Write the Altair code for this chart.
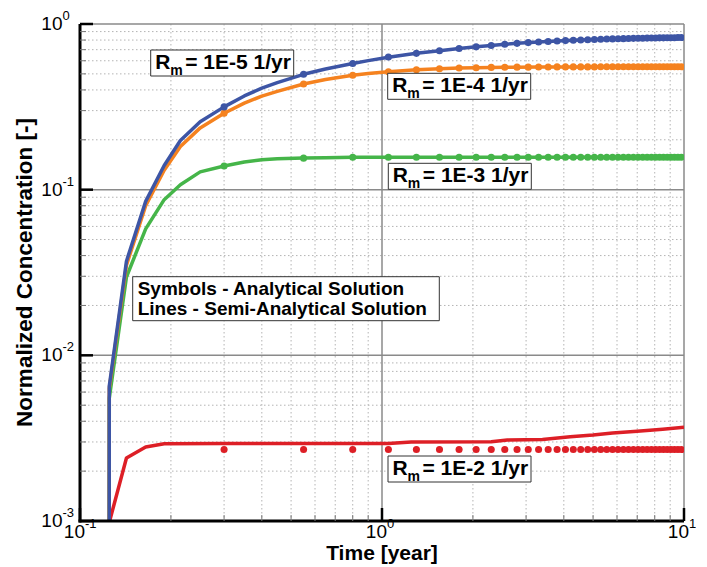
import altair as alt
import pandas as pd

# ---------------- data ----------------
# analytical solution (symbols)
analytical_t = [0.3, 0.55, 0.8, 1.05, 1.3, 1.55, 1.8, 2.05, 2.3, 2.55,
                2.8, 3.05, 3.3, 3.55, 3.8, 4.05, 4.3, 4.55, 4.8, 5.05,
                5.3, 5.55, 5.8, 6.05, 6.3, 6.55, 6.8, 7.05, 7.3, 7.55,
                7.8, 8.05, 8.3, 8.55, 8.8, 9.05, 9.3, 9.55, 9.8]
an_1e5 = [0.316, 0.497, 0.578, 0.632, 0.665, 0.690, 0.711, 0.728, 0.742, 0.754,
          0.764, 0.772, 0.779, 0.785, 0.790, 0.794, 0.798, 0.801, 0.804, 0.807,
          0.809, 0.811, 0.813, 0.815, 0.816, 0.818, 0.819, 0.820, 0.821, 0.822,
          0.823, 0.824, 0.825, 0.825, 0.826, 0.827, 0.827, 0.828, 0.828]
an_1e4 = [0.289, 0.434, 0.490, 0.515, 0.529, 0.537, 0.542, 0.545, 0.547, 0.548,
          0.549, 0.549, 0.550, 0.550, 0.551, 0.551, 0.551, 0.551, 0.551, 0.551,
          0.552, 0.552, 0.552, 0.552, 0.552, 0.552, 0.552, 0.552, 0.552, 0.552,
          0.552, 0.552, 0.552, 0.552, 0.552, 0.552, 0.552, 0.552, 0.552]
an_1e3 = [0.139, 0.155, 0.157, 0.157, 0.157, 0.157, 0.157, 0.157, 0.157, 0.157,
          0.157, 0.157, 0.157, 0.157, 0.157, 0.157, 0.157, 0.157, 0.157, 0.157,
          0.157, 0.157, 0.157, 0.157, 0.157, 0.157, 0.157, 0.157, 0.157, 0.157,
          0.157, 0.157, 0.157, 0.157, 0.157, 0.157, 0.157, 0.157, 0.157]
an_1e2 = [0.0027, 0.0027, 0.0027, 0.0027, 0.0027, 0.0027, 0.0027, 0.0027, 0.0027, 0.0027,
          0.0027, 0.0027, 0.0027, 0.0027, 0.0027, 0.0027, 0.0027, 0.0027, 0.0027, 0.0027,
          0.0027, 0.0027, 0.0027, 0.0027, 0.0027, 0.0027, 0.0027, 0.0027, 0.0027, 0.0027,
          0.0027, 0.0027, 0.0027, 0.0027, 0.0027, 0.0027, 0.0027, 0.0027, 0.0027]

# semi-analytical solution (lines)
line_t = [0.1249, 0.125, 0.1425, 0.165, 0.19, 0.215, 0.25, 0.3, 0.35, 0.4,
          0.45, 0.55, 0.65, 0.8, 0.9, 1.05, 1.3, 1.55, 1.8, 2.05,
          2.3, 2.55, 2.8, 3.3, 3.8, 4.3, 4.8, 5.3, 5.8, 6.5,
          7.3, 8.0, 9.0, 10.0]
sa_1e5 = [0.0001, 0.0065, 0.037, 0.085, 0.140, 0.198, 0.257, 0.316, 0.368, 0.410,
          0.443, 0.497, 0.535, 0.578, 0.601, 0.630, 0.665, 0.690, 0.711, 0.728,
          0.742, 0.754, 0.764, 0.779, 0.790, 0.798, 0.804, 0.809, 0.813, 0.817,
          0.821, 0.824, 0.826, 0.829]
sa_1e4 = [0.0001, 0.0063, 0.035, 0.080, 0.131, 0.182, 0.236, 0.289, 0.333, 0.367,
          0.392, 0.434, 0.462, 0.490, 0.502, 0.515, 0.529, 0.537, 0.542, 0.545,
          0.547, 0.548, 0.549, 0.550, 0.551, 0.551, 0.551, 0.552, 0.552, 0.552,
          0.552, 0.552, 0.552, 0.552]
sa_1e3 = [0.0001, 0.0055, 0.0297, 0.058, 0.087, 0.107, 0.128, 0.139, 0.147, 0.1515,
          0.1535, 0.1555, 0.156, 0.157, 0.157, 0.157, 0.157, 0.157, 0.157, 0.157,
          0.157, 0.157, 0.157, 0.157, 0.157, 0.157, 0.157, 0.157, 0.157, 0.157,
          0.157, 0.157, 0.157, 0.157]
red_t = [0.125, 0.1425, 0.165, 0.19, 0.3, 0.55, 0.8, 1.05, 1.25, 2.3,
         2.6, 3.4, 4.2, 5.0, 5.8, 7.0, 8.5, 10.0]
sa_1e2 = [0.00098, 0.0024, 0.0028, 0.00293, 0.00294, 0.00294, 0.00294, 0.00294, 0.00300, 0.00301,
          0.00308, 0.00310, 0.00322, 0.00330, 0.00340, 0.00348, 0.00358, 0.00368]

# ticks
x_major = [0.1, 1, 10]
x_exp = ["-1", "0", "1"]
x_minor = [0.2, 0.3, 0.4, 0.5, 0.6, 0.7, 0.8, 0.9, 2, 3, 4, 5, 6, 7, 8, 9]
y_major = [0.001, 0.01, 0.1, 1]
y_exp = ["-3", "-2", "-1", "0"]
y_minor = [0.002, 0.003, 0.004, 0.005, 0.006, 0.007, 0.008, 0.009,
           0.02, 0.03, 0.04, 0.05, 0.06, 0.07, 0.08, 0.09,
           0.2, 0.3, 0.4, 0.5, 0.6, 0.7, 0.8, 0.9]

rm_texts = ["= 1E-5 1/yr", "= 1E-4 1/yr", "= 1E-3 1/yr", "= 1E-2 1/yr"]
legend_lines = ["Symbols - Analytical Solution", "Lines - Semi-Analytical Solution"]

# ---------------- styling ----------------
W, H = 604, 497
FONT = "Liberation Sans"
BLUE, ORANGE, GREEN, RED = "#3D55A5", "#F5821F", "#45B549", "#DD1F26"
xs = alt.Scale(type="log", domain=[0.1, 10], nice=False)
ys = alt.Scale(type="log", domain=[0.001, 1], nice=False)
one = pd.DataFrame({"k": [0]})

layers = []

# grid
layers.append(alt.Chart(pd.DataFrame({"t": x_minor})).mark_rule(
    color="#b4b4b4", strokeWidth=1, strokeDash=[1.5, 2.5]).encode(
    x=alt.X("t:Q", scale=xs, axis=None), y=alt.value(0), y2=alt.value(H)))
layers.append(alt.Chart(pd.DataFrame({"v": y_minor})).mark_rule(
    color="#b4b4b4", strokeWidth=1, strokeDash=[1.5, 2.5]).encode(
    y=alt.Y("v:Q", scale=ys, axis=None), x=alt.value(0), x2=alt.value(W)))
layers.append(alt.Chart(pd.DataFrame({"t": x_major[1:]})).mark_rule(
    color="#8a8a8a", strokeWidth=1.5).encode(
    x=alt.X("t:Q", scale=xs, axis=None), y=alt.value(0), y2=alt.value(H)))
layers.append(alt.Chart(pd.DataFrame({"v": y_major[1:]})).mark_rule(
    color="#8a8a8a", strokeWidth=1.5).encode(
    y=alt.Y("v:Q", scale=ys, axis=None), x=alt.value(0), x2=alt.value(W)))

# series
series = [
    (red_t, sa_1e2, an_1e2, RED),
    (line_t, sa_1e3, an_1e3, GREEN),
    (line_t, sa_1e4, an_1e4, ORANGE),
    (line_t, sa_1e5, an_1e5, BLUE),
]
for lt, lv, av, col in series:
    layers.append(alt.Chart(pd.DataFrame({"t": lt, "c": lv})).mark_line(
        color=col, strokeWidth=3.5, clip=True, strokeJoin="round").encode(
        x=alt.X("t:Q", scale=xs, axis=None), y=alt.Y("c:Q", scale=ys, axis=None),
        order="t:Q"))
for lt, lv, av, col in series:
    layers.append(alt.Chart(pd.DataFrame({"t": analytical_t, "c": av})).mark_circle(
        color=col, size=50, opacity=1, clip=True).encode(
        x=alt.X("t:Q", scale=xs, axis=None), y=alt.Y("c:Q", scale=ys, axis=None)))

# axis lines
layers.append(alt.Chart(one).mark_rule(color="black", strokeWidth=3).encode(
    x=alt.value(0), y=alt.value(0), y2=alt.value(H + 1.5)))
layers.append(alt.Chart(one).mark_rule(color="black", strokeWidth=3).encode(
    x=alt.value(-1.5), x2=alt.value(W), y=alt.value(H)))

# ticks (inward)
layers.append(alt.Chart(pd.DataFrame({"t": x_minor})).mark_rule(color="#777", strokeWidth=1).encode(
    x=alt.X("t:Q", scale=xs, axis=None), y=alt.value(H), y2=alt.value(H - 6)))
layers.append(alt.Chart(pd.DataFrame({"t": x_major})).mark_rule(color="black", strokeWidth=2.5).encode(
    x=alt.X("t:Q", scale=xs, axis=None), y=alt.value(H), y2=alt.value(H - 13)))
layers.append(alt.Chart(pd.DataFrame({"v": y_minor})).mark_rule(color="#777", strokeWidth=1).encode(
    y=alt.Y("v:Q", scale=ys, axis=None), x=alt.value(0), x2=alt.value(6)))
layers.append(alt.Chart(pd.DataFrame({"v": y_major})).mark_rule(color="black", strokeWidth=2.5).encode(
    y=alt.Y("v:Q", scale=ys, axis=None), x=alt.value(0), x2=alt.value(13)))

# tick labels 10^n
xl = pd.DataFrame({"t": x_major, "e": x_exp, "b": ["10"] * 3})
layers.append(alt.Chart(xl).mark_text(font=FONT, fontSize=19, align="right", baseline="middle",
                                      dx=5, color="black").encode(
    x=alt.X("t:Q", scale=xs, axis=None), y=alt.value(H + 11), text="b:N"))
layers.append(alt.Chart(xl).mark_text(font=FONT, fontSize=13, align="left", baseline="middle",
                                      dx=5, color="black").encode(
    x=alt.X("t:Q", scale=xs, axis=None), y=alt.value(H + 2.5), text="e:N"))
yl = pd.DataFrame({"v": y_major, "e": y_exp, "b": ["10"] * 4})
layers.append(alt.Chart(yl).mark_text(font=FONT, fontSize=19, align="right", baseline="middle",
                                      color="black").encode(
    y=alt.Y("v:Q", scale=ys, axis=None), x=alt.value(-17.5), text="b:N"))
layers.append(alt.Chart(yl).mark_text(font=FONT, fontSize=13, align="left", baseline="middle",
                                      dy=-8, color="black").encode(
    y=alt.Y("v:Q", scale=ys, axis=None), x=alt.value(-17.5), text="e:N"))

# axis titles
layers.append(alt.Chart(pd.DataFrame({"s": ["Time [year]"]})).mark_text(
    font=FONT, fontSize=21, fontWeight="bold", align="center", baseline="middle", color="black").encode(
    x=alt.value(W / 2), y=alt.value(530), text="s:N"))
layers.append(alt.Chart(pd.DataFrame({"s": ["Normalized Concentration [-]"]})).mark_text(
    font=FONT, fontSize=22.5, fontWeight="bold", align="center", baseline="middle", angle=270,
    color="black").encode(x=alt.value(-55), y=alt.value(H / 2), text="s:N"))

# R_m annotation boxes (box left, box top in plot pixels)
boxes = [(70.7, 26.0), (307.7, 49.3), (308.3, 139.3), (308.0, 432.0)]
for (bx, by), s in zip(boxes, rm_texts):
    d = pd.DataFrame({"R": ["R"], "m": ["m"], "s": [s]})
    layers.append(alt.Chart(d).mark_rect(fill="white", stroke="#333", strokeWidth=1).encode(
        x=alt.value(bx), x2=alt.value(bx + 143), y=alt.value(by), y2=alt.value(by + 26)))
    layers.append(alt.Chart(d).mark_text(font=FONT, fontSize=21, fontWeight="bold", align="left",
                                         baseline="alphabetic", color="black").encode(
        x=alt.value(bx + 4.5), y=alt.value(by + 19), text="R:N"))
    layers.append(alt.Chart(d).mark_text(font=FONT, fontSize=14, fontWeight="bold", align="left",
                                         baseline="alphabetic", color="black").encode(
        x=alt.value(bx + 19.5), y=alt.value(by + 24.5), text="m:N"))
    layers.append(alt.Chart(d).mark_text(font=FONT, fontSize=21, fontWeight="bold", align="left",
                                         baseline="alphabetic", color="black").encode(
        x=alt.value(bx + 34.5), y=alt.value(by + 19), text="s:N"))

# symbols / lines legend box
d = pd.DataFrame({"a": [legend_lines[0]], "b": [legend_lines[1]]})
layers.append(alt.Chart(d).mark_rect(fill="white", stroke="#333", strokeWidth=1).encode(
    x=alt.value(52.7), x2=alt.value(359.3), y=alt.value(252.7), y2=alt.value(296.7)))
layers.append(alt.Chart(d).mark_text(font=FONT, fontSize=19, fontWeight="bold", align="left",
                                     baseline="alphabetic", color="black").encode(
    x=alt.value(57.7), y=alt.value(271), text="a:N"))
layers.append(alt.Chart(d).mark_text(font=FONT, fontSize=19, fontWeight="bold", align="left",
                                     baseline="alphabetic", color="black").encode(
    x=alt.value(57.7), y=alt.value(291), text="b:N"))

chart = alt.layer(*layers).properties(
    width=W, height=H,
    autosize=alt.AutoSizeParams(type="none"),
    padding={"left": 72, "top": 16, "right": 12, "bottom": 46},
    background="white",
).configure_view(stroke=None)

chart.save("out.html", embed_options={"renderer": "svg", "actions": False})
